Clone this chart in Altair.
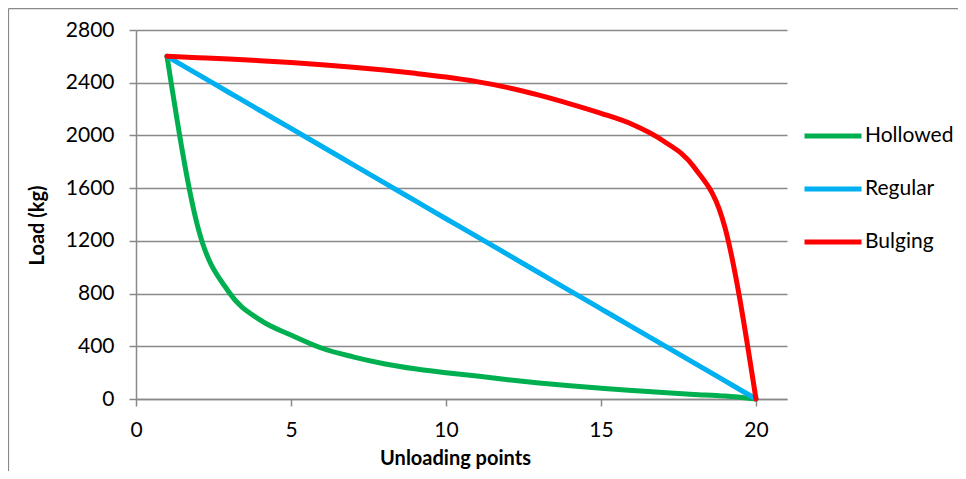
import altair as alt
import pandas as pd

# ---- data ----
x_points = list(range(1, 21))
hollowed = [2600, 1300, 810, 600, 485, 385, 320, 268, 229, 200,
            174, 146, 121, 100, 82, 65, 49, 35, 22, 0]
regular = [2600, 2463, 2326, 2189, 2053, 1916, 1779, 1642, 1505, 1368,
           1232, 1095, 958, 821, 684, 547, 411, 274, 137, 0]
bulging = [2600, 2590, 2580, 2567, 2553, 2537, 2518, 2496, 2471, 2443,
           2408, 2363, 2306, 2240, 2168, 2085, 1960, 1760, 1300, 0]
series_names = ["Hollowed", "Regular", "Bulging"]
series_colors = ["#00B050", "#00B0F0", "#FF0000"]
x_ticks = [0, 5, 10, 15, 20]
y_ticks = [0, 400, 800, 1200, 1600, 2000, 2400, 2800]

rows = []
for name, vals in zip(series_names, [hollowed, regular, bulging]):
    for xv, yv in zip(x_points, vals):
        rows.append({"x": xv, "load": yv, "series": name})
df = pd.DataFrame(rows)

FONT = "Lato"
GRAY = "#898989"

lines = alt.Chart(df).mark_line(
    strokeWidth=5, interpolate="monotone", strokeCap="round", strokeJoin="round"
).encode(
    x=alt.X("x:Q",
            scale=alt.Scale(domain=[0, 21], nice=False, zero=False),
            axis=alt.Axis(title="Unloading points", values=x_ticks, grid=False,
                          format="d", labelFlush=False,
                          titleX=319, titleY=59, titleBaseline="middle",
                          titleAlign="center")),
    y=alt.Y("load:Q",
            scale=alt.Scale(domain=[0, 2800], nice=False),
            axis=alt.Axis(title="Load (kg)", values=y_ticks, grid=True,
                          format="d", labelFlush=False,
                          titleX=-99, titleY=195, titleAngle=270,
                          titleBaseline="middle", titleAlign="center")),
    color=alt.Color("series:N",
                    scale=alt.Scale(domain=series_names, range=series_colors),
                    sort=series_names,
                    legend=alt.Legend(title=None, orient="none", legendX=666, legendY=75,
                                      symbolType="stroke", symbolSize=3249,
                                      symbolStrokeWidth=5, labelFontSize=21,
                                      labelFont=FONT, labelColor="black",
                                      rowPadding=12, labelOffset=1, padding=0)),
)

frame = pd.DataFrame({"v": [0]})
border_left = alt.Chart(frame).mark_rule(color=GRAY, strokeWidth=1.2).encode(
    x=alt.value(-127.5), y=alt.value(-21.4), y2=alt.value(460))
border_top = alt.Chart(frame).mark_rule(color=GRAY, strokeWidth=1.2).encode(
    x=alt.value(-127.5), x2=alt.value(830), y=alt.value(-21.4))

chart = alt.layer(border_left, border_top, lines).properties(
    width=651, height=369,
    autosize=alt.AutoSizeParams(type="none"),
    padding={"left": 128, "top": 22, "right": 171, "bottom": 72},
    background="white",
).configure_view(stroke="transparent").configure_axis(
    domainColor=GRAY, domainWidth=1.5, tickColor=GRAY, tickWidth=1.5, tickSize=7,
    gridColor=GRAY, gridWidth=1.5, gridOpacity=1,
    labelFont=FONT, labelFontSize=21, labelColor="black",
    titleFont=FONT, titleFontSize=20, titleFontWeight="bold", titleColor="black",
).configure_axisX(labelPadding=13).configure_axisY(labelPadding=15)

chart.save("out.html", embed_options={"renderer": "svg", "actions": False})
